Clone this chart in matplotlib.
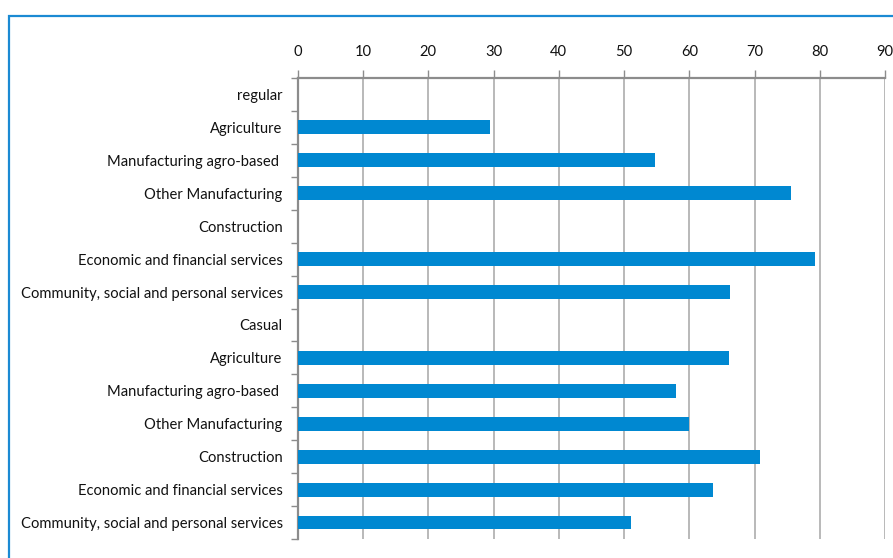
import numpy as np
import matplotlib
matplotlib.use("Agg")
import matplotlib.pyplot as plt
from matplotlib.patches import Rectangle
from matplotlib.ticker import FixedLocator

plt.rcParams['font.family'] = ['Lato', 'DejaVu Sans']

# Employment categories, listed top to bottom (group headers carry no bar)
categories = [
    "regular",
    "Agriculture",
    "Manufacturing agro-based ",
    "Other Manufacturing",
    "Construction",
    "Economic and financial services",
    "Community, social and personal services",
    "Casual",
    "Agriculture",
    "Manufacturing agro-based ",
    "Other Manufacturing",
    "Construction",
    "Economic and financial services",
    "Community, social and personal services",
]
values = [np.nan, 29.4, 54.7, 75.5, np.nan, 79.3, 66.2,
          np.nan, 66.0, 57.9, 60.0, 70.8, 63.6, 51.0]
x_ticks = [0, 10, 20, 30, 40, 50, 60, 70, 80, 90]

bar_color = "#0088d1"
grid_color = "#a6a6a6"
axis_color = "#8c8c8c"
frame_color = "#1b8ad3"
text_color = "#111111"

fig = plt.figure(figsize=(8.93, 5.58), dpi=100)
fig.patch.set_facecolor("white")

# outer chart frame, running past the right and bottom edges
frame = Rectangle((9 / 893, -0.1), 1.2, 1 - 16 / 558 + 0.1,
                  transform=fig.transFigure, fill=False,
                  edgecolor=frame_color, linewidth=1.6, zorder=0)
fig.patches.append(frame)

ax = fig.add_axes([297.7 / 893, 19 / 558, (885.3 - 297.7) / 893, (539 - 78) / 558])

y = np.arange(len(categories))
ax.barh(y, values, height=0.42, color=bar_color, zorder=3)

ax.set_xlim(0, 90)
ax.set_ylim(len(categories) - 0.5, -0.5)

ax.xaxis.set_major_locator(FixedLocator(x_ticks))
ax.xaxis.tick_top()
ax.tick_params(axis="x", which="major", direction="out", length=6, width=1,
               color=axis_color, pad=8, labelsize=10.6, labelcolor=text_color)

ax.set_yticks(y)
ax.set_yticklabels(categories)
ax.yaxis.set_minor_locator(FixedLocator(np.arange(-0.5, len(categories), 1.0)))
ax.tick_params(axis="y", which="major", length=0, pad=10.8,
               labelsize=10.6, labelcolor=text_color)
ax.tick_params(axis="y", which="minor", direction="out", length=5, width=1,
               color=axis_color)

ax.grid(axis="x", color=grid_color, linewidth=1.1, zorder=1)
ax.set_axisbelow(True)

for side in ("right", "bottom"):
    ax.spines[side].set_visible(False)
for side in ("top", "left"):
    ax.spines[side].set_color(axis_color)
    ax.spines[side].set_linewidth(1.6)

fig.savefig("out.png", dpi=100)
